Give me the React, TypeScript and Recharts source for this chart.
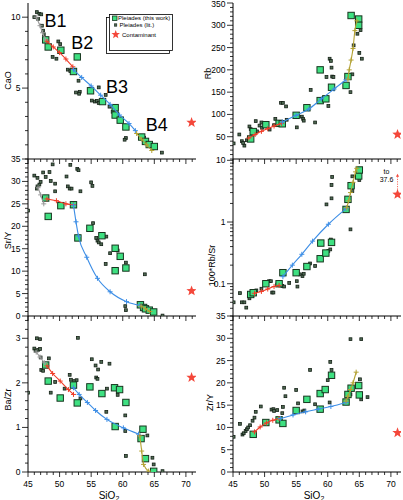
import React from 'react';
import { ScatterChart, Scatter, XAxis, YAxis, ReferenceDot } from 'recharts';

type Pt = [number, number];

const FONT = '"Liberation Sans", Arial, Helvetica, sans-serif';

const RED = '#f03c28';
const BLUE = '#3d8ee6';
const OLIVE = '#b3a233';
const GREY = '#9a9a9a';
const STAR = '#f4473a';

const range = (a: number, b: number, s: number) => {
  const out: number[] = [];
  for (let v = a; v <= b + 1e-9; v += s) out.push(Math.round(v * 1000) / 1000);
  return out;
};

// SiO2 axis
const xDomain: [number, number] = [45, 71.6];
const xTicks = range(45, 71, 1);
const xLabels = [45, 50, 55, 60, 65, 70];

// CaO
const caoLabels = [5, 10];
const caoOwn: Pt[] = [[47.8, 8.4], [48.2, 7.9], [50.2, 7.67], [52.8, 7.2], [52.2, 6.17], [54.9, 4.81], [56.8, 4.05], [58.8, 3.62], [58.8, 3.1], [59.6, 2.74], [60.5, 2.26], [63.0, 1.55], [63.6, 1.24], [64.2, 1.02], [65.0, 0.88]];
const caoLit: Pt[] = [[46.4, 10.36], [46.8, 10.24], [47.1, 10.2], [46.0, 10.0], [46.6, 9.88], [47.2, 9.4], [47.4, 9.05], [47.5, 8.8], [49.8, 8.29], [50.1, 8.1], [50.4, 7.6], [48.9, 7.2], [49.5, 7.07], [51.3, 6.3], [51.7, 6.2], [53.0, 5.52], [52.6, 4.69], [53.2, 4.74], [53.1, 4.6], [56.2, 5.05], [57.3, 4.52], [55.1, 4.12], [55.6, 4.05], [55.9, 4.1], [56.2, 3.95], [57.9, 3.69], [58.4, 3.33], [60.5, 1.48], [60.3, 1.36], [63.4, 1.5], [66.2, 0.45]];
const caoB1: Pt[] = [[46.3, 10.0], [46.9, 9.4], [47.3, 8.9], [47.8, 8.4]];
const caoB2: Pt[] = [[48.0, 8.3], [49.0, 7.9], [50.0, 7.5], [51.0, 7.05], [52.1, 6.5]];
const caoB3: Pt[] = [[52.2, 6.3], [53.5, 5.75], [55, 5.15], [56.5, 4.5], [58, 3.85], [59.5, 3.1], [61, 2.5], [62, 2.0]];
const caoB4: Pt[] = [[62.2, 1.8], [63, 1.4], [63.8, 1.0], [64.6, 0.6]];
const caoStar: Pt = [70.9, 2.57];

// Rb
const rbLabels = [50, 100, 150, 200, 250, 300, 350];
const rbOwn: Pt[] = [[47.8, 45], [48.2, 61.5], [50.2, 77], [52.3, 80], [52.8, 79], [55.0, 98], [56.7, 115], [58.8, 200], [58.8, 131], [59.7, 135], [60.6, 161], [62.9, 165], [63.2, 185], [63.7, 322], [64.9, 314], [64.9, 300]];
const rbLit: Pt[] = [[45.1, 35], [46.0, 55], [46.4, 40], [46.8, 30], [46.6, 36], [47.2, 42], [47.6, 73], [47.8, 67], [48.6, 85], [49.2, 75], [49.5, 82], [49.6, 70], [48.8, 62], [50.8, 66], [51.7, 90], [51.5, 76], [52.6, 126], [52.9, 126], [53.4, 118], [53.5, 88], [55.1, 71], [55.9, 95], [56.1, 90], [56.2, 86], [57.3, 155], [58.0, 82], [59.8, 184], [60.1, 119], [60.3, 225], [60.5, 220], [60.6, 205], [60.7, 185], [60.9, 184], [63.9, 190], [63.6, 150], [64.1, 255], [64.7, 281], [65.2, 289], [65.0, 238], [65.4, 225]];
const rbB2: Pt[] = [[47.5, 47], [48.5, 55], [49.5, 62], [50.5, 68], [51.5, 74], [52.7, 80]];
const rbB3: Pt[] = [[52.8, 83], [55, 98], [57, 112], [59, 135], [61, 157], [62.9, 178]];
const rbB4: Pt[] = [[63.2, 179], [63.4, 200], [63.7, 222], [64.0, 248], [64.3, 288], [64.6, 310]];
const rbStar: Pt = [71.05, 55];

// Sr/Y
const srYLabels = [0, 5, 10, 15, 20, 25, 30, 35];
const srYOwn: Pt[] = [[47.8, 26.3], [48.2, 22.2], [50.2, 24.6], [52.2, 24.8], [52.9, 17.4], [54.8, 19.55], [56.7, 17.9], [58.8, 15.1], [59.6, 13.3], [58.8, 10.1], [60.5, 10.7], [62.8, 2.5], [63.3, 1.9], [63.6, 1.6], [64.2, 1.3], [64.9, 0.9]];
const srYLit: Pt[] = [[45.0, 23.5], [46.0, 31.3], [46.5, 30.8], [46.4, 28.4], [46.5, 28.9], [46.8, 29.3], [47.0, 29.9], [47.4, 32.0], [47.8, 31.0], [48.4, 32.1], [48.9, 33.8], [48.6, 30.1], [49.3, 27.8], [49.3, 29.5], [51.1, 31.1], [51.3, 28.9], [51.6, 28.4], [51.9, 28.4], [51.7, 33.7], [52.8, 32.8], [53.0, 32.5], [53.3, 27.8], [55.0, 29.8], [55.2, 29.0], [55.3, 20.7], [55.8, 17.4], [56.0, 16.8], [56.2, 16.4], [56.6, 16.0], [57.4, 17.7], [57.3, 11.6], [58.0, 14.0], [59.2, 14.6], [60.5, 11.9], [60.4, 2.2], [60.5, 1.3], [63.5, 9.3], [66.3, 0.1]];
const srYB1: Pt[] = [[46.6, 28.6], [47.0, 27.0], [47.5, 25.0]];
const srYB2: Pt[] = [[48.0, 26.1], [49.5, 25.7], [51.0, 25.0], [52.2, 24.8]];
const srYB3: Pt[] = [[52.2, 24.7], [52.6, 21], [53.0, 17.8], [54.3, 13.1], [56.0, 8.4], [58.0, 5.4], [60.6, 3.2], [62.7, 2.4]];
const srYB4: Pt[] = [[62.9, 2.2], [63.6, 1.6], [64.3, 1.0]];
const srYStar: Pt = [70.9, 5.6];

// 100*Rb/Sr (log)
const rbSrTicks = [0.03, 0.04, 0.05, 0.06, 0.07, 0.08, 0.09, 0.1, 0.2, 0.3, 0.4, 0.5, 0.6, 0.7, 0.8, 0.9, 1, 2, 3, 4, 5, 6, 7, 8, 9, 10];
const rbSrLabels = [0.1, 1, 10];
const rbSrOwn: Pt[] = [[47.8, 0.067], [48.2, 0.0715], [50.2, 0.1], [52.3, 0.1], [52.9, 0.151], [55.0, 0.151], [56.7, 0.19], [58.8, 0.254], [59.7, 0.314], [58.9, 0.456], [60.6, 0.468], [62.9, 1.6], [63.2, 2.33], [63.7, 3.88], [64.9, 5.57], [65.0, 6.97]];
const rbSrLit: Pt[] = [[45.1, 0.05], [46.1, 0.0705], [46.4, 0.05], [47.1, 0.041], [46.8, 0.05], [47.6, 0.058], [48.7, 0.078], [49.5, 0.083], [50.7, 0.11], [51.0, 0.11], [51.2, 0.072], [51.4, 0.072], [52.0, 0.097], [52.8, 0.092], [53.1, 0.09], [53.9, 0.103], [55.1, 0.11], [55.2, 0.09], [55.6, 0.142], [56.0, 0.133], [56.2, 0.145], [57.2, 0.213], [58.0, 0.194], [59.8, 1.93], [60.1, 0.34], [60.4, 0.36], [60.5, 0.52], [60.6, 2.42], [60.6, 3.98], [60.7, 5.37], [63.6, 0.76], [63.9, 3.18], [63.9, 5.5], [65.0, 4.8]];
const rbSrB2: Pt[] = [[48.4, 0.07], [49.5, 0.075], [50.5, 0.082], [51.5, 0.09], [52.3, 0.094]];
const rbSrB3: Pt[] = [[52.9, 0.13], [54.4, 0.2], [55.9, 0.3], [57.6, 0.49], [60.1, 0.92], [62.9, 1.65]];
const rbSrB4: Pt[] = [[63.0, 1.7], [63.3, 2.2], [63.6, 3.0], [64.0, 4.4], [64.4, 6.5], [64.6, 7.4]];
const rbSrStar: Pt = [71.05, 2.8];
const rbSrOffscale: Pt[] = [[71.05, 3.35], [71.05, 5.6]];

// Ba/Zr
const baZrTicks = range(0, 3.4, 0.2);
const baZrLabels = [0, 1, 2, 3];
const baZrOwn: Pt[] = [[47.8, 2.4], [48.2, 2.04], [50.1, 1.66], [52.2, 1.95], [52.8, 1.55], [54.8, 1.91], [56.7, 1.76], [58.7, 1.89], [59.5, 1.85], [60.5, 1.56], [58.8, 1.02], [63.2, 0.96], [62.9, 0.75], [63.6, 0.3], [64.9, 0.015]];
const baZrLit: Pt[] = [[45.0, 1.78], [46.0, 2.77], [46.4, 3.0], [46.9, 2.98], [46.2, 2.72], [46.6, 2.74], [46.9, 2.76], [47.0, 2.57], [47.1, 2.29], [47.4, 2.27], [48.3, 2.55], [48.6, 1.78], [49.3, 2.02], [50.8, 1.87], [51.6, 2.18], [51.8, 2.07], [52.3, 2.04], [52.7, 2.06], [52.9, 3.01], [53.3, 1.65], [55.1, 2.53], [55.7, 2.39], [56.1, 2.3], [55.8, 2.12], [56.0, 2.09], [56.6, 2.47], [57.9, 2.43], [57.4, 1.35], [57.5, 1.87], [59.2, 1.73], [60.4, 1.27], [60.5, 0.36], [60.4, 0.92], [63.9, 0.82], [64.7, 0.32], [64.9, 0.17], [66.3, 0.02]];
const baZrB1: Pt[] = [[46.3, 2.69], [46.9, 2.58], [47.6, 2.45]];
const baZrB2: Pt[] = [[48.0, 2.38], [48.9, 2.21], [50.1, 2.04], [51.4, 1.85], [52.2, 1.74]];
const baZrB3: Pt[] = [[52.2, 1.89], [53.1, 1.74], [54.4, 1.56], [55.7, 1.38], [57.5, 1.18], [60.1, 0.99], [62.5, 0.85]];
const baZrB4: Pt[] = [[62.7, 0.81], [63.0, 0.47], [63.3, 0.17], [64.1, 0.02]];
const baZrStar: Pt = [70.9, 2.12];

// Zr/Y
const zrYLabels = [0, 5, 10, 15, 20, 25, 30, 35];
const zrYOwn: Pt[] = [[48.2, 8.45], [50.2, 11.1], [52.3, 11.7], [52.9, 10.9], [55.0, 13.8], [56.7, 16.3], [58.8, 14.1], [58.8, 17.6], [59.6, 18.5], [60.6, 21.7], [62.9, 15.7], [63.2, 17.4], [63.7, 18.8], [64.9, 19.4], [65.0, 17.3]];
const zrYLit: Pt[] = [[45.1, 7.9], [46.1, 10.8], [46.5, 8.4], [46.7, 8.7], [47.0, 9.2], [47.2, 9.6], [47.4, 10.0], [47.7, 10.5], [48.1, 11.5], [48.4, 12.2], [48.6, 13.5], [49.4, 14.7], [51.1, 14.0], [51.4, 14.1], [51.5, 13.7], [52.0, 13.9], [52.9, 14.6], [52.8, 13.2], [53.1, 18.9], [53.3, 17.0], [55.0, 18.4], [55.3, 15.4], [56.0, 13.6], [56.3, 13.8], [57.2, 22.9], [58.0, 15.2], [60.0, 20.6], [60.4, 24.7], [60.6, 22.9], [60.3, 15.6], [63.6, 29.8], [63.5, 18.9], [63.6, 17.4], [65.1, 20.8], [65.3, 16.3], [65.3, 29.8], [66.3, 16.8]];
const zrYB2: Pt[] = [[48.4, 9.0], [49.3, 10.1], [50.3, 11.0], [51.3, 11.6], [52.3, 12.0]];
const zrYB3: Pt[] = [[52.5, 12.0], [54.5, 12.8], [56.5, 13.5], [58.5, 14.1], [60.5, 14.7], [62.9, 15.6]];
const zrYB4: Pt[] = [[62.9, 15.9], [63.2, 17], [63.6, 18.5], [64.0, 20.0], [64.5, 22.4]];
const zrYStar: Pt = [71.05, 8.8];

const pts = (a: Pt[]) => a.map(([x, y]) => ({ x, y }));
const near = (list: number[], v: number) => list.some((m) => Math.abs(m - v) < 1e-6);

const ownShape = (p: any) => (
  <rect x={p.cx - 3.2} y={p.cy - 3.2} width={6.4} height={6.4} fill="#3ee081" stroke="#17361f" strokeWidth={1} />
);
const litShape = (p: any) => (
  <rect x={p.cx - 1.4} y={p.cy - 1.4} width={2.8} height={2.8} fill="#4f6a53" stroke="#142016" strokeWidth={0.8} />
);
const crossShape = (color: string) => (p: any) => (
  <path d={`M${p.cx - 2.5},${p.cy}h5M${p.cx},${p.cy - 2.5}v5`} stroke={color} strokeWidth={1} fill="none" />
);
const starPath = (cx: number, cy: number, r: number) => {
  let d = '';
  for (let i = 0; i < 10; i++) {
    const rr = i % 2 === 0 ? r : r * 0.42;
    const a = -Math.PI / 2 + (i * Math.PI) / 5;
    d += `${i === 0 ? 'M' : 'L'}${cx + rr * Math.cos(a)},${cy + rr * Math.sin(a)}`;
  }
  return d + 'Z';
};
const starShape = (p: any) => <path d={starPath(p.cx, p.cy, 5.5)} fill={STAR} />;
const emptyShape = () => <g />;
const triShape = (p: any) => <path d={`M${p.cx},${p.cy - 2}L${p.cx + 1.6},${p.cy + 1}L${p.cx - 1.6},${p.cy + 1}Z`} fill={STAR} />;

const xTick = (showLabel: boolean) => (p: any) => {
  const v = p.payload.value;
  const major = near(xLabels, v);
  return (
    <g>
      <line x1={p.x} x2={p.x} y1={p.y} y2={p.y + (major ? 5 : 3)} stroke="#000" strokeWidth={0.8} />
      {showLabel && major && (
        <text x={p.x} y={p.y + 15} textAnchor="middle" fontSize={8.5} fontFamily={FONT} fill="#000">
          {v}
        </text>
      )}
    </g>
  );
};

// top margin of each chart svg is 10px, so keep labels a hair inside the page
const yTick = (majors: number[], labels: number[], minY: number) => (p: any) => {
  const v = p.payload.value;
  const major = near(majors, v);
  const ty = Math.max(p.y, minY);
  return (
    <g>
      <line x1={p.x - (major ? 6 : 3)} x2={p.x} y1={p.y} y2={p.y} stroke="#000" strokeWidth={0.8} />
      {near(labels, v) && (
        <text x={p.x - 7.5} y={ty} dy="0.35em" textAnchor="end" fontSize={8.5} fontFamily={FONT} fill="#000">
          {String(v)}
        </text>
      )}
    </g>
  );
};

interface Model {
  data: Pt[];
  color: string;
}
interface Note {
  x: number;
  y: number;
  text: string;
  size: number;
}
interface PanelProps {
  plotX: number;
  plotY: number;
  plotW: number;
  plotH: number;
  yDomain: [number, number];
  yTicks: number[];
  yMajor: number[];
  yLabels: number[];
  log?: boolean;
  title: React.ReactNode;
  titleY: number;
  titleDx: number;
  showX: boolean;
  own: Pt[];
  lit: Pt[];
  models: Model[];
  star: Pt;
  notes?: Note[];
  offscale?: Pt[];
}

function Panel(props: PanelProps) {
  const { plotX, plotY, plotW, plotH } = props;
  const W = plotW + 50;
  const H = plotH + 45;
  const ids = { xAxisId: 'b', yAxisId: 'l' };
  // local y of page row 4, so the topmost tick label is not cut by the page edge
  const minY = 10 - plotY + 4;
  return (
    <div style={{ position: 'absolute', left: plotX - 40, top: plotY - 10 }}>
      <ScatterChart width={W} height={H} margin={{ top: 10, right: 10, bottom: 0, left: 0 }}>
        <XAxis
          xAxisId="b"
          dataKey="x"
          type="number"
          domain={xDomain}
          allowDataOverflow
          ticks={xTicks}
          interval={0}
          tickSize={0}
          tickMargin={0}
          tickLine={false}
          tick={xTick(props.showX)}
          axisLine={{ stroke: '#000' }}
          height={35}
          label={
            props.showX
              ? (lp: any) => {
                  const vb = lp.viewBox;
                  return (
                    <text x={vb.x + vb.width / 2 - 3} y={vb.y + 26.5} textAnchor="middle" fontSize={10} fontFamily={FONT} fill="#000">
                      SiO<tspan fontSize={7} dy={2.5}>2</tspan>
                    </text>
                  );
                }
              : undefined
          }
        />
        <XAxis xAxisId="t" orientation="top" type="number" domain={xDomain} allowDataOverflow height={0} tick={false} tickLine={false} axisLine={{ stroke: '#000' }} />
        <YAxis
          yAxisId="l"
          dataKey="y"
          type="number"
          scale={props.log ? 'log' : 'linear'}
          domain={props.yDomain}
          allowDataOverflow
          ticks={props.yTicks}
          interval={0}
          tickSize={0}
          tickMargin={0}
          tickLine={false}
          tick={yTick(props.yMajor, props.yLabels, minY)}
          axisLine={{ stroke: '#000' }}
          width={40}
          label={(lp: any) => {
            const vb = lp.viewBox;
            const tx = vb.x + vb.width - props.titleDx;
            const ty = props.titleY - plotY + 10;
            return (
              <text x={tx} y={ty} transform={`rotate(-90 ${tx} ${ty})`} textAnchor="middle" dominantBaseline="central" fontSize={9} fontFamily={FONT} fill="#000">
                {props.title}
              </text>
            );
          }}
        />
        <YAxis yAxisId="r" orientation="right" type="number" domain={[0, 1]} width={0} tick={false} tickLine={false} axisLine={{ stroke: '#000' }} />
        <Scatter {...ids} data={pts(props.lit)} shape={litShape} isAnimationActive={false} />
        <Scatter {...ids} data={pts(props.own)} shape={ownShape} isAnimationActive={false} />
        {props.models.map((m, i) => (
          <Scatter
            key={i}
            {...ids}
            data={pts(m.data)}
            fill={m.color}
            line={{ stroke: m.color, strokeWidth: 1.1 }}
            lineJointType="monotoneX"
            shape={crossShape(m.color)}
            isAnimationActive={false}
          />
        ))}
        {props.offscale && (
          <Scatter {...ids} data={pts(props.offscale)} fill={STAR} line={{ stroke: STAR, strokeWidth: 0.8, strokeDasharray: '1.2 1.2' }} shape={emptyShape} isAnimationActive={false} />
        )}
        {props.offscale && (
          <Scatter {...ids} data={pts(props.offscale.slice(-1))} shape={triShape} isAnimationActive={false} />
        )}
        <Scatter {...ids} data={pts([props.star])} shape={starShape} isAnimationActive={false} />
        {(props.notes || []).map((n, i) => (
          <ReferenceDot
            key={'n' + i}
            {...ids}
            x={n.x}
            y={n.y}
            r={0}
            fill="none"
            stroke="none"
            label={{ value: n.text, position: 'center', fontSize: n.size, fill: '#000', fontFamily: FONT }}
          />
        ))}
      </ScatterChart>
    </div>
  );
}

const COLS = [27.5, 232.5];
const PLOT_W = 168;
const ROWS = [
  { y: 2.5, h: 156 },
  { y: 158.5, h: 157 },
  { y: 315.5, h: 156 },
];

const bNotes: Note[] = [
  { x: 49.35, y: 9.79, text: 'B1', size: 18 },
  { x: 53.6, y: 8.2, text: 'B2', size: 18 },
  { x: 59.1, y: 5.1, text: 'B3', size: 18 },
  { x: 65.4, y: 2.45, text: 'B4', size: 18 },
];
const offNotes: Note[] = [
  { x: 69.3, y: 6.7, text: 'to', size: 7 },
  { x: 69.3, y: 4.8, text: '37.6', size: 7 },
];

function LegendBox() {
  return (
    <svg width={403} height={60} style={{ position: 'absolute', left: 0, top: 0 }}>
      <rect x={106.5} y={17.5} width={63} height={36} fill="#fff" stroke="#000" strokeWidth={0.8} />
      <rect x={109.5} y={14.5} width={63} height={36} fill="#fff" stroke="#000" strokeWidth={0.8} />
      <rect x={112.5} y={16} width={4.5} height={4.5} fill="#3ee081" stroke="#17361f" strokeWidth={0.8} />
      <text x={118} y={20.3} fontSize={6} fontFamily={FONT} fill="#000">Pleiades (this work)</text>
      <rect x={114.4} y={23.8} width={2.4} height={2.4} fill="#4f6a53" stroke="#142016" strokeWidth={0.6} />
      <text x={119.5} y={27} fontSize={6} fontFamily={FONT} fill="#000">Pleiades (lit.)</text>
      <path d={starPath(115.7, 34.5, 4.5)} fill={STAR} />
      <text x={122} y={36.6} fontSize={6} fontFamily={FONT} fill="#000">Contaminant</text>
    </svg>
  );
}

export default function App() {
  return (
    <div style={{ position: 'absolute', left: 0, top: 0, width: 403, height: 500, overflow: 'hidden', background: '#fff' }}>
      <Panel
        plotX={COLS[0]} plotY={ROWS[0].y} plotW={PLOT_W} plotH={ROWS[0].h}
        yDomain={[0, 11]} yTicks={range(0, 10, 1)} yMajor={caoLabels} yLabels={caoLabels}
        title="CaO" titleY={80} titleDx={20} showX={false}
        own={caoOwn} lit={caoLit}
        models={[{ data: caoB1, color: GREY }, { data: caoB2, color: RED }, { data: caoB3, color: BLUE }, { data: caoB4, color: OLIVE }]}
        star={caoStar} notes={bNotes}
      />
      <Panel
        plotX={COLS[1]} plotY={ROWS[0].y} plotW={PLOT_W} plotH={ROWS[0].h}
        yDomain={[0, 350]} yTicks={range(0, 350, 10)} yMajor={rbLabels} yLabels={rbLabels}
        title="Rb" titleY={73} titleDx={25} showX={false}
        own={rbOwn} lit={rbLit}
        models={[{ data: rbB2, color: RED }, { data: rbB3, color: BLUE }, { data: rbB4, color: OLIVE }]}
        star={rbStar}
      />
      <Panel
        plotX={COLS[0]} plotY={ROWS[1].y} plotW={PLOT_W} plotH={ROWS[1].h}
        yDomain={[0, 35]} yTicks={range(0, 35, 1)} yMajor={srYLabels} yLabels={srYLabels}
        title="Sr/Y" titleY={240} titleDx={20} showX={false}
        own={srYOwn} lit={srYLit}
        models={[{ data: srYB1, color: GREY }, { data: srYB2, color: RED }, { data: srYB3, color: BLUE }, { data: srYB4, color: OLIVE }]}
        star={srYStar}
      />
      <Panel
        plotX={COLS[1]} plotY={ROWS[1].y} plotW={PLOT_W} plotH={ROWS[1].h}
        yDomain={[0.03, 10.5]} yTicks={rbSrTicks} yMajor={rbSrLabels} yLabels={rbSrLabels} log
        title="100*Rb/Sr" titleY={265} titleDx={21} showX={false}
        own={rbSrOwn} lit={rbSrLit}
        models={[{ data: rbSrB2, color: RED }, { data: rbSrB3, color: BLUE }, { data: rbSrB4, color: OLIVE }]}
        star={rbSrStar} offscale={rbSrOffscale} notes={offNotes}
      />
      <Panel
        plotX={COLS[0]} plotY={ROWS[2].y} plotW={PLOT_W} plotH={ROWS[2].h}
        yDomain={[0, 3.5]} yTicks={baZrTicks} yMajor={baZrLabels} yLabels={baZrLabels}
        title="Ba/Zr" titleY={399} titleDx={20} showX
        own={baZrOwn} lit={baZrLit}
        models={[{ data: baZrB1, color: GREY }, { data: baZrB2, color: RED }, { data: baZrB3, color: BLUE }, { data: baZrB4, color: OLIVE }]}
        star={baZrStar}
      />
      <Panel
        plotX={COLS[1]} plotY={ROWS[2].y} plotW={PLOT_W} plotH={ROWS[2].h}
        yDomain={[0, 35]} yTicks={range(0, 35, 1)} yMajor={zrYLabels} yLabels={zrYLabels}
        title="Zr/Y" titleY={402} titleDx={23} showX
        own={zrYOwn} lit={zrYLit}
        models={[{ data: zrYB2, color: RED }, { data: zrYB3, color: BLUE }, { data: zrYB4, color: OLIVE }]}
        star={zrYStar}
      />
      <LegendBox />
    </div>
  );
}
